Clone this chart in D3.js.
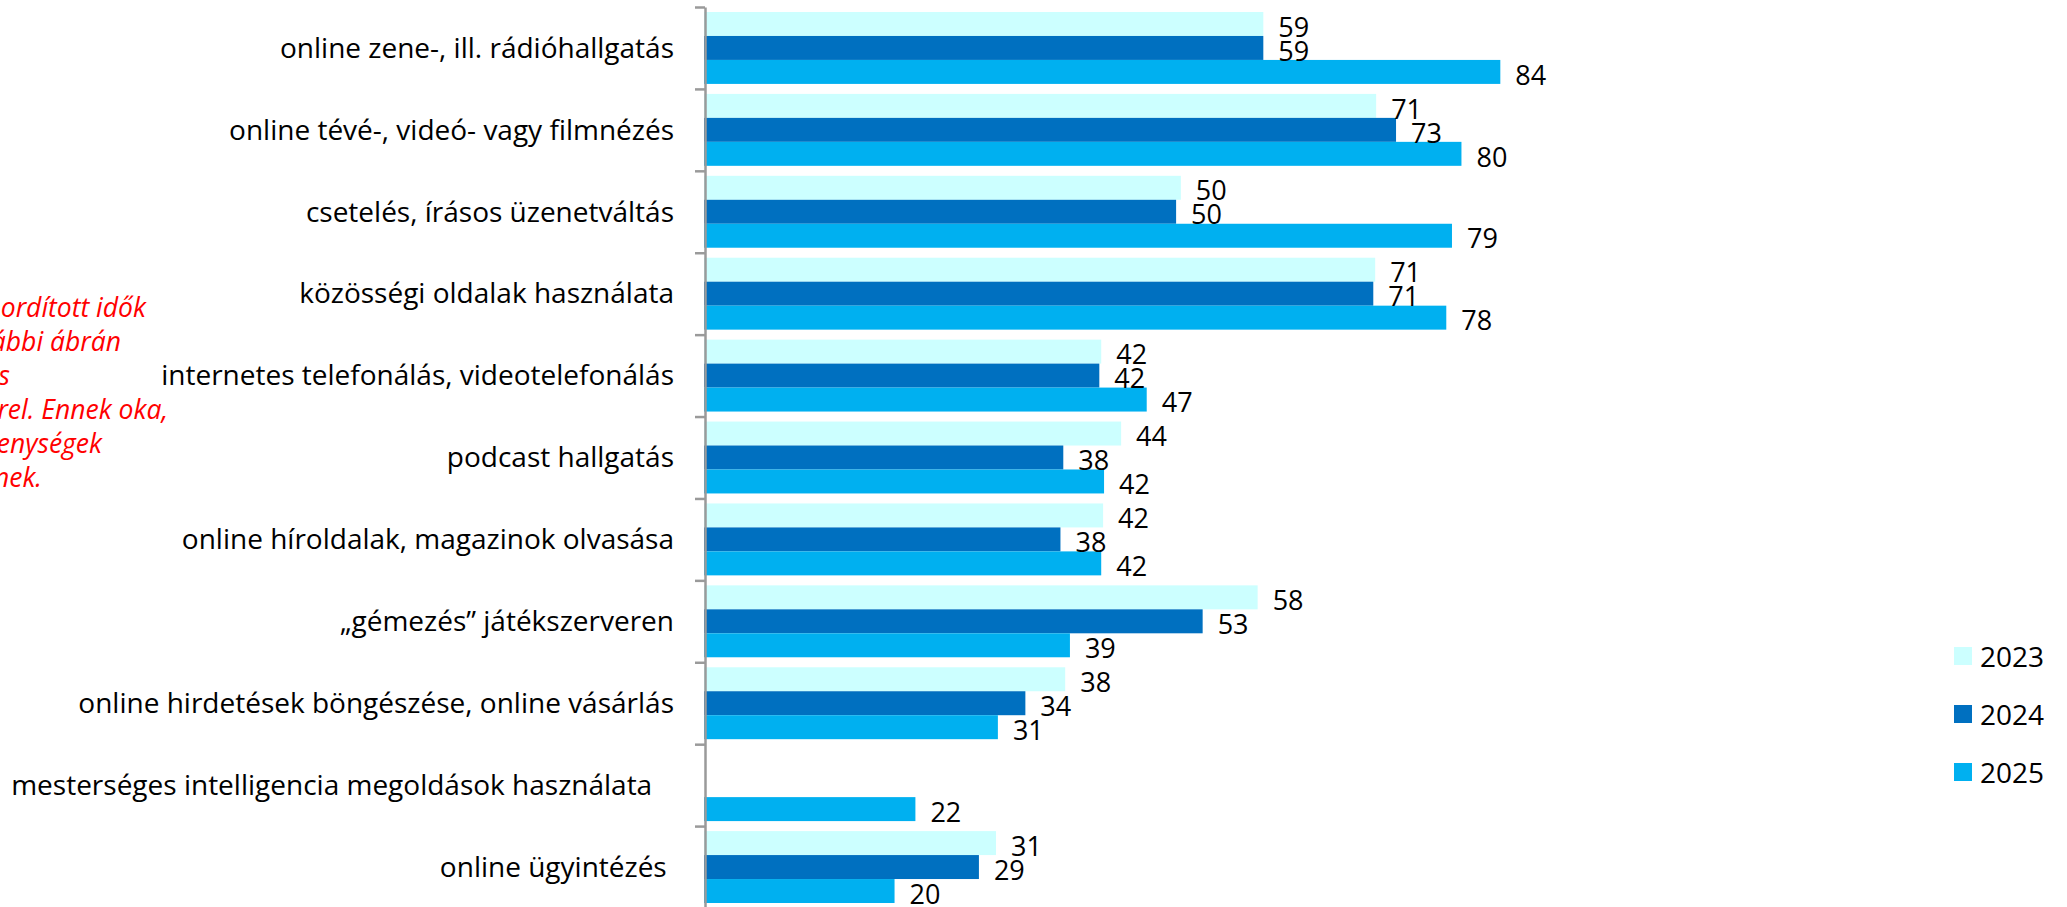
<!DOCTYPE html>
<html lang="hu">
<head>
<meta charset="UTF-8">
<script src="https://d3js.org/d3.v7.min.js"></script>
<title>Online tevékenységek</title>
<style>
html, body { margin: 0; padding: 0; background: #fff; }
svg { display: block; font-family: 'Open Sans', 'Noto Sans', sans-serif; }
.cat text { white-space: pre; }
</style>
</head>
<body>
<svg id="chart"></svg>
<script>
// categories (top to bottom) and series values
let categories = [
    'online zene-, ill. rádióhallgatás',
    'online tévé-, videó- vagy filmnézés',
    'csetelés, írásos üzenetváltás',
    'közösségi oldalak használata',
    'internetes telefonálás, videotelefonálás',
    'podcast hallgatás',
    'online híroldalak, magazinok olvasása',
    '„gémezés” játékszerveren',
    'online hirdetések böngészése, online vásárlás',
    'mesterséges intelligencia megoldások használata   ',
    'online ügyintézés '
]
let years = ['2023', '2024', '2025']
let v2023 = [59.0, 70.9, 50.3, 70.8, 41.9, 44.0, 42.1, 58.4, 38.1, null, 30.8]
let v2024 = [59.0, 73.0, 49.8, 70.6, 41.7, 37.9, 37.6, 52.6, 33.9, null, 29.0]
let v2025 = [84.0, 79.9, 78.9, 78.3, 46.7, 42.2, 41.9, 38.6, 31.0, 22.3, 20.1]
let colors = ['#CCFFFF', '#0070C0', '#00B0F0']

// note text box on the left, partly outside the picture
let noteLines = ['ordított idők', 'ábbi ábrán', 's', 'rel. Ennek oka,', 'enységek', 'nek.']
let noteEnds = [146, 121, 10, 168, 102, 42]

let width = 2067
let height = 907

let svg = d3.select('#chart')
    .attr('width', width)
    .attr('height', height)

let series = [v2023, v2024, v2025]

let xScale = d3.scaleLinear()
    .domain([0, 100])
    .range([704, 1652])

let yScale = d3.scaleBand()
    .domain(categories)
    .range([7, 908])
    .padding(0)

let innerScale = d3.scaleBand()
    .domain(years)
    .range([5, yScale.bandwidth() - 5])
    .padding(0)

// boundary ticks between the groups
let tickScale = d3.scaleLinear()
    .domain([0, categories.length])
    .range([7, 908])

let boundaryAxis = d3.axisLeft(tickScale)
    .tickValues(d3.range(categories.length + 1))
    .tickSize(10)
    .tickSizeOuter(0)
    .tickFormat('')

// bars
let groups = svg.append('g')
    .selectAll('g')
    .data(categories)
    .join('g')
    .attr('transform', (d) => 'translate(0,' + yScale(d) + ')')

groups.each(function (cat, i) {
    let g = d3.select(this)
    let rows = years.map((y, k) => ({ year: y, value: series[k][i], color: colors[k] }))
        .filter((r) => r.value != null)

    g.selectAll('rect')
        .data(rows)
        .join('rect')
        .attr('x', xScale(0))
        .attr('y', (r) => innerScale(r.year))
        .attr('width', (r) => xScale(r.value) - xScale(0))
        .attr('height', innerScale.bandwidth())
        .attr('fill', (r) => r.color)

    g.selectAll('text')
        .data(rows)
        .join('text')
        .attr('x', (r) => xScale(r.value) + 15)
        .attr('y', (r) => innerScale(r.year) + innerScale.bandwidth() / 2)
        .attr('dy', '0.47em')
        .attr('font-size', 27)
        .attr('fill', '#000')
        .text((r) => Math.round(r.value))
})

// axis line with ticks
let axisG = svg.append('g')
    .attr('transform', 'translate(705,0)')
    .call(boundaryAxis)
axisG.select('.domain').attr('stroke', '#9a9a9a').attr('stroke-width', 2.5)
axisG.selectAll('.tick line').attr('stroke', '#9a9a9a').attr('stroke-width', 2.5)

// category labels
let labelAxis = d3.axisLeft(yScale)
    .tickSize(0)
    .tickPadding(31)

let catG = svg.append('g')
    .attr('class', 'cat')
    .attr('transform', 'translate(705,0)')
    .call(labelAxis)
catG.select('.domain').remove()
catG.selectAll('text')
    .attr('font-size', 28)
    .attr('font-family', "'Open Sans', 'Noto Sans', sans-serif")
    .attr('fill', '#000')
    .attr('dy', '0.35em')

// legend
let legend = svg.append('g')
    .selectAll('g')
    .data(years)
    .join('g')
    .attr('transform', (d, i) => 'translate(1954,' + (647 + i * 58) + ')')

legend.append('rect')
    .attr('width', 18)
    .attr('height', 18)
    .attr('fill', (d, i) => colors[i])

legend.append('text')
    .attr('x', 26)
    .attr('y', 20)
    .attr('font-size', 28)
    .attr('fill', '#000')
    .text((d) => d)

// red note
svg.append('g')
    .selectAll('text')
    .data(noteLines)
    .join('text')
    .attr('x', (d, i) => noteEnds[i])
    .attr('y', (d, i) => 317 + i * 34)
    .attr('text-anchor', 'end')
    .attr('font-size', 26.5)
    .attr('font-style', 'italic')
    .attr('fill', '#FF0000')
    .text((d) => d)
</script>
</body>
</html>
